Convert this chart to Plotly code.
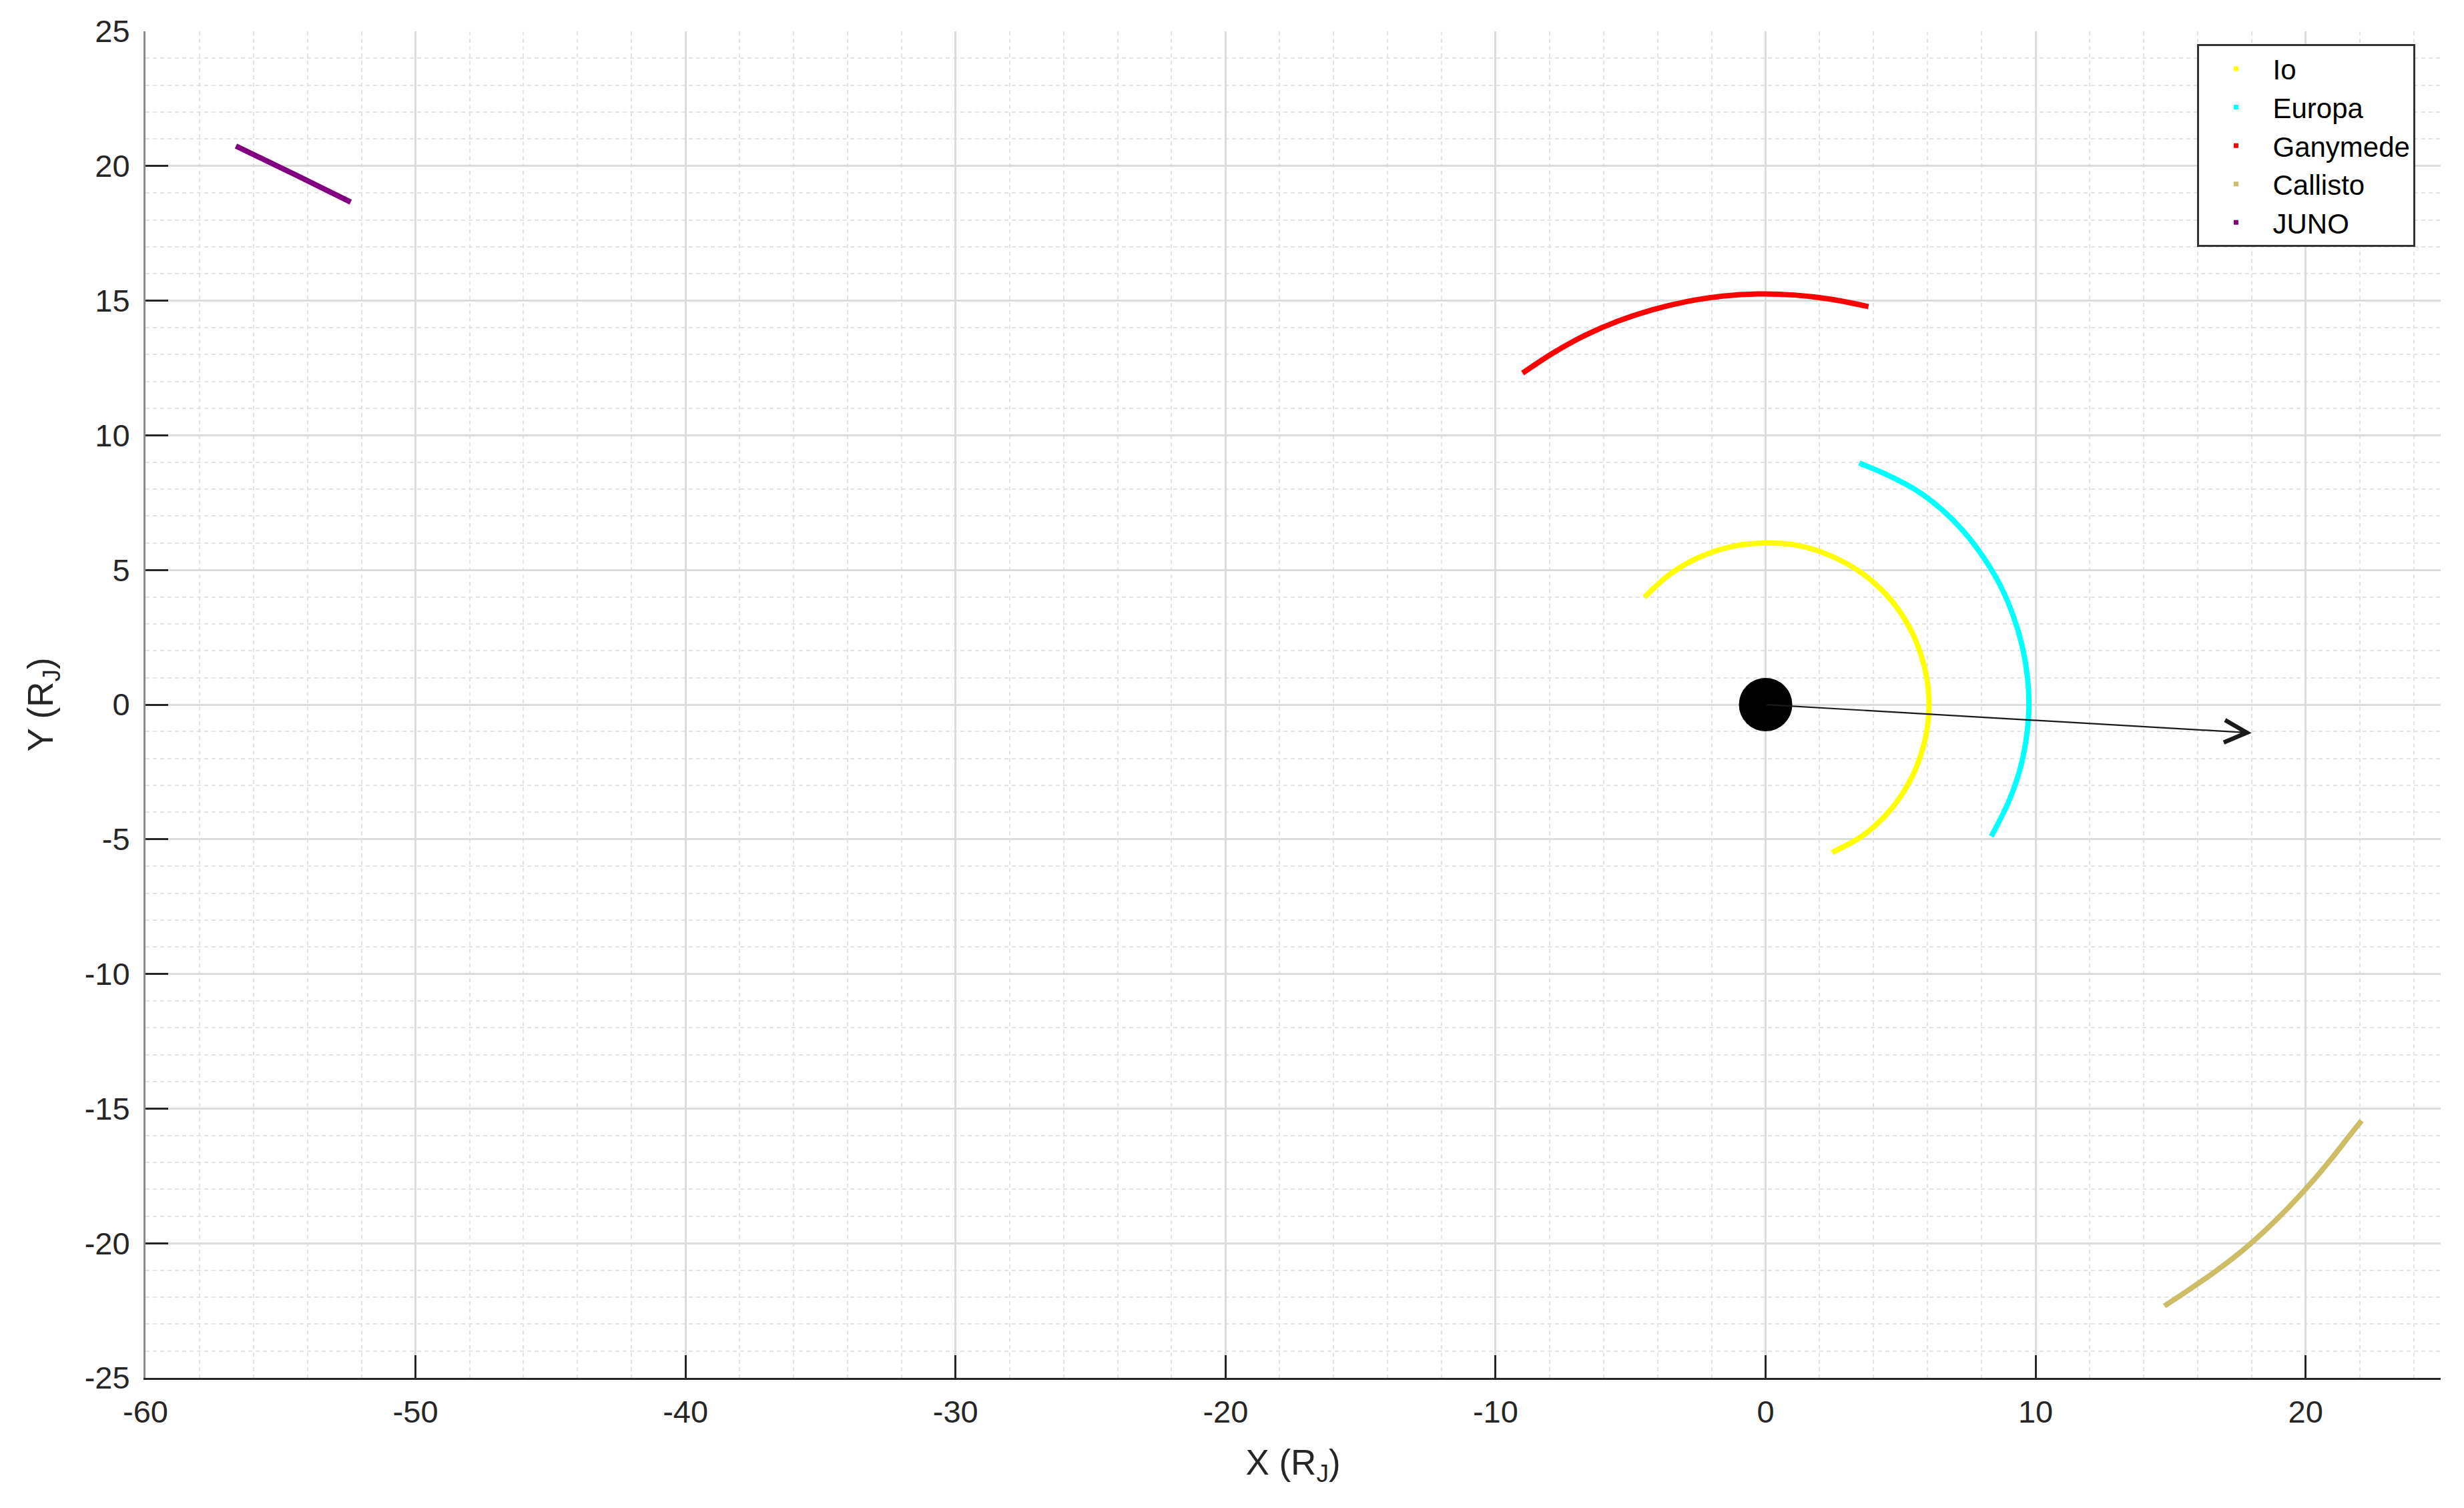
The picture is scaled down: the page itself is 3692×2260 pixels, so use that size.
import plotly.graph_objects as go

# ---- data (units of Jupiter radii) ----
io_x = [-4.48, -3.53, -2.44, -1.25, 0.00, 1.25, 2.45, 3.56, 4.50, 5.24, 5.75, 6.02, 6.02, 5.75, 5.24, 4.50, 3.56, 2.46]
io_y = [3.99, 4.85, 5.48, 5.87, 6.00, 5.90, 5.51, 4.89, 4.05, 3.03, 1.87, 0.63, -0.63, -1.87, -3.03, -4.05, -4.89, -5.49]

europa_x = [3.47, 4.53, 5.58, 6.52, 7.36, 8.08, 8.69, 9.16, 9.50, 9.70, 9.75, 9.64, 9.39, 8.99, 8.36]
europa_y = [8.97, 8.52, 7.96, 7.25, 6.40, 5.45, 4.43, 3.33, 2.19, 1.02, -0.17, -1.35, -2.52, -3.63, -4.89]

ganymede_x = [-9.00, -7.85, -6.69, -5.47, -4.20, -2.91, -1.59, -0.27, 1.06, 2.39, 3.81]
ganymede_y = [12.31, 13.07, 13.71, 14.24, 14.66, 14.97, 15.17, 15.25, 15.21, 15.06, 14.78]

callisto_x = [14.77, 15.75, 16.71, 17.64, 18.52, 19.35, 20.15, 20.90, 21.63, 22.07]
callisto_y = [-22.33, -21.68, -21.01, -20.29, -19.51, -18.69, -17.82, -16.93, -16.00, -15.45]

juno_x = [-56.65, -54.50, -52.40]
juno_y = [20.74, 19.70, 18.66]

jupiter_x = [0.0]
jupiter_y = [0.0]

arrow_tail = (0.0, 0.0)
arrow_tip = (18.0, -1.05)

x_ticks = [-60, -50, -40, -30, -20, -10, 0, 10, 20]
x_ticktext = ["-60", "-50", "-40", "-30", "-20", "-10", "0", "10", "20"]
y_ticks = [-25, -20, -15, -10, -5, 0, 5, 10, 15, 20, 25]
y_ticktext = ["-25", "-20", "-15", "-10", "-5", "0", "5", "10", "15", "20", "25"]

series = [
    ("Io", io_x, io_y, "#FFFF00"),
    ("Europa", europa_x, europa_y, "#00FFFF"),
    ("Ganymede", ganymede_x, ganymede_y, "#FF0000"),
    ("Callisto", callisto_x, callisto_y, "#CCBD66"),
    ("JUNO", juno_x, juno_y, "#800080"),
]

FONT = "Liberation Sans, Arial, Helvetica, sans-serif"
TXT = "#262626"

fig = go.Figure()

for name, xs, ys, col in series:
    fig.add_trace(go.Scatter(
        x=xs, y=ys, mode="lines", line=dict(color=col, width=8, shape="spline", smoothing=1.0),
        showlegend=False, hoverinfo="skip"))

for name, xs, ys, col in series:
    fig.add_trace(go.Scatter(
        x=[None], y=[None], mode="markers", name=name,
        marker=dict(color=col, size=7, symbol="square")))

fig.add_trace(go.Scatter(
    x=jupiter_x, y=jupiter_y, mode="markers", showlegend=False,
    marker=dict(color="black", size=80, line=dict(width=0))))

fig.add_annotation(
    x=arrow_tip[0], y=arrow_tip[1], ax=arrow_tail[0], ay=arrow_tail[1],
    xref="x", yref="y", axref="x", ayref="y", text="",
    showarrow=True, arrowhead=5, arrowsize=3.0, arrowwidth=2.2, arrowcolor="#1a1a1a")

common = dict(
    showgrid=True, gridcolor="#DCDCDC", gridwidth=2.5, zeroline=False,
    ticks="inside", ticklen=34, tickwidth=3, tickcolor=TXT,
    tickfont=dict(family=FONT, size=47, color=TXT),
    showline=True, linewidth=3,
)

fig.update_xaxes(
    range=[-60, 25], tickvals=x_ticks, ticktext=x_ticktext, linecolor=TXT,
    minor=dict(dtick=2, tick0=0, showgrid=True, gridcolor="#E4E4E4", gridwidth=2, griddash="6px,5px"),
    title=dict(text="X (R<sub>J</sub>)", font=dict(family=FONT, size=53, color=TXT), standoff=32),
    ticklabelstandoff=8, **common)
fig.update_yaxes(
    range=[-25, 25], tickvals=y_ticks, ticktext=y_ticktext, linecolor="#8a8a8a",
    minor=dict(dtick=1, tick0=0, showgrid=True, gridcolor="#E4E4E4", gridwidth=2, griddash="6px,5px"),
    title=dict(text="Y (R<sub>J</sub>)", font=dict(family=FONT, size=53, color=TXT), standoff=31),
    ticklabelstandoff=11, **common)

# page body adds an 8px offset, so the figure is 8px smaller and margins shifted
fig.update_layout(
    width=3684, height=2252,
    margin=dict(l=210, r=35, t=32, b=195),
    plot_bgcolor="white", paper_bgcolor="white",
    showlegend=True,
    legend=dict(
        x=0.894, y=0.9905, xanchor="left", yanchor="top",
        bgcolor="white", bordercolor="#333333", borderwidth=3,
        font=dict(family=FONT, size=42, color="black"),
        itemwidth=100, itemsizing="trace",
    ),
)

fig.write_html("out.html")
